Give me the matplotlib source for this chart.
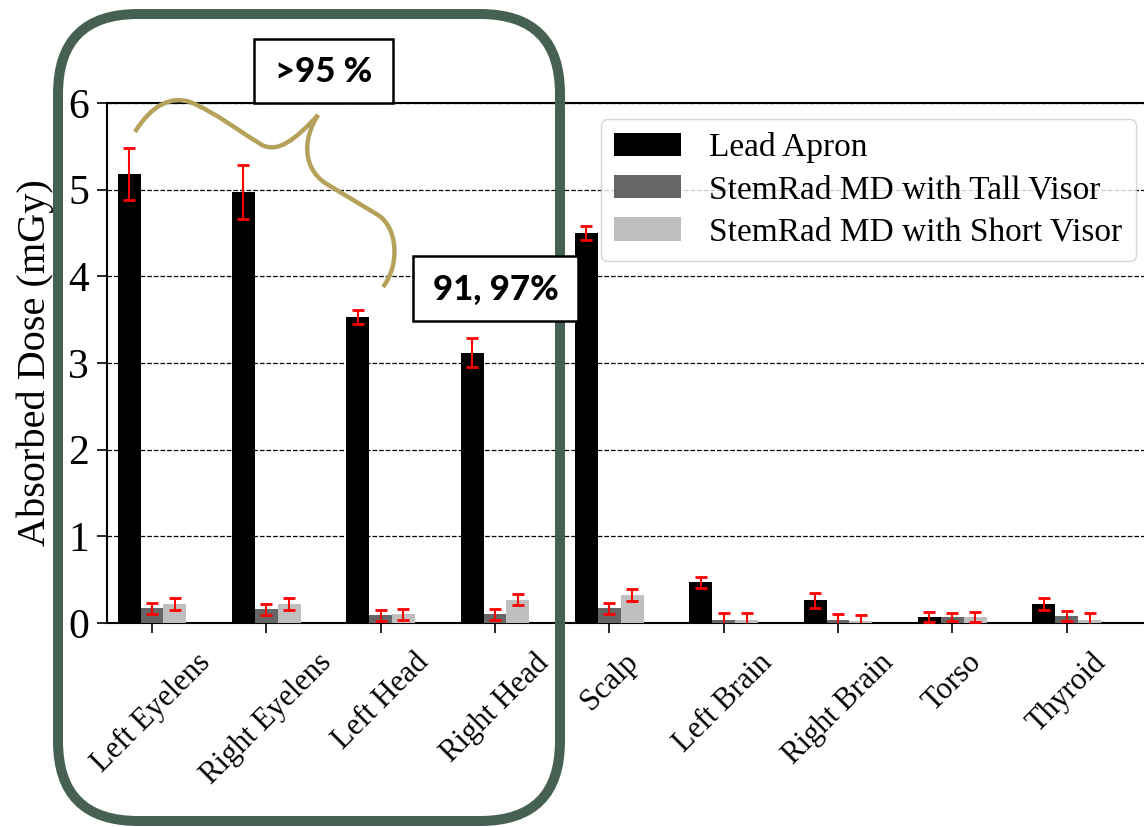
import numpy as np
import matplotlib.pyplot as plt
from matplotlib.patches import FancyBboxPatch, Rectangle, PathPatch
from matplotlib.path import Path

plt.rcParams['font.family'] = ['Liberation Serif', 'DejaVu Serif']

organs = ["Left Eyelens", "Right Eyelens", "Left Head", "Right Head", "Scalp",
          "Left Brain", "Right Brain", "Torso", "Thyroid"]

lead_apron = [5.18, 4.97, 3.53, 3.12, 4.50, 0.47, 0.26, 0.07, 0.22]
lead_apron_err = [0.30, 0.31, 0.08, 0.17, 0.08, 0.065, 0.09, 0.055, 0.07]
tall_visor = [0.17, 0.16, 0.09, 0.10, 0.17, 0.04, 0.03, 0.07, 0.08]
tall_visor_err = [0.065, 0.065, 0.065, 0.065, 0.065, 0.07, 0.07, 0.05, 0.055]
short_visor = [0.22, 0.22, 0.10, 0.27, 0.32, 0.04, 0.02, 0.07, 0.04]
short_visor_err = [0.065, 0.065, 0.065, 0.065, 0.07, 0.07, 0.07, 0.06, 0.07]

series_names = ["Lead Apron", "StemRad MD with Tall Visor", "StemRad MD with Short Visor"]

W, H = 1144, 827
fig = plt.figure(figsize=(W / 100, H / 100), dpi=100)
ax = fig.add_axes([107 / W, 1 - 623 / H, (1181 - 107) / W, 520 / H])

x = np.arange(len(organs))
width = 0.2
err_style = dict(ecolor='red', elinewidth=1.5, capsize=4, capthick=2)
for off, vals, errs, col, name in [(-width, lead_apron, lead_apron_err, 'black', series_names[0]),
                                   (0, tall_visor, tall_visor_err, '0.4', series_names[1]),
                                   (width, short_visor, short_visor_err, '0.75', series_names[2])]:
    ax.bar(x + off, vals, width, color=col, label=name, yerr=errs, error_kw=err_style, zorder=3)

ax.set_xlim(-0.393, 9.0)
ax.set_ylim(0, 6)
ax.set_axisbelow(True)
ax.yaxis.grid(True, linestyle='--', color='black', linewidth=0.9)
ax.set_xticks(x)
ax.set_xticklabels(organs, rotation=45, ha='center', fontsize=22)
ax.tick_params(axis='y', labelsize=30, length=7, width=1.2, pad=6)
ax.tick_params(axis='x', length=7, width=1.2, pad=11)
ax.set_ylabel('Absorbed Dose (mGy)', fontsize=29, labelpad=10)
for s in ax.spines.values():
    s.set_linewidth(1.5)

ax.legend(loc='upper left', bbox_to_anchor=(601 / W, 1 - 119 / H), bbox_transform=fig.transFigure,
          borderaxespad=0, fontsize=24, handlelength=2.0, handletextpad=0.85, labelspacing=0.35)

# overlay in pixel units for the callouts
ov = fig.add_axes([0, 0, 1, 1])
ov.set_xlim(0, W)
ov.set_ylim(H, 0)
ov.axis('off')
ov.set_zorder(5)

ov.add_patch(FancyBboxPatch((58, 14), 502, 807, boxstyle="round,pad=0,rounding_size=80",
                            fill=False, ec='#466152', lw=7.2, zorder=1))

verts = [(135, 132),
         (152, 104), (172, 96), (190, 102),
         (215, 112), (245, 135), (262, 145),
         (278, 153), (295, 140), (318, 115),
         (305, 135), (300, 165), (325, 183),
         (378, 215),
         (398, 228), (400, 265), (383, 287)]
codes = [Path.MOVETO] + [Path.CURVE4] * 12 + [Path.LINETO] + [Path.CURVE4] * 3
ov.add_patch(PathPatch(Path(verts, codes), fill=False, ec='#b5a25a', lw=3.2,
                       capstyle='butt', zorder=2))

for (bx, by, bw, bh), txt in [((254, 39, 139, 64), '>95 %'), ((413, 256, 165, 65), '91, 97%')]:
    ov.add_patch(Rectangle((bx, by), bw, bh, fc='white', ec='black', lw=1.8, zorder=3))
    ov.text(bx + bw / 2, by + bh / 2 + 1, txt, ha='center', va='center', fontsize=25,
            fontweight='black', family=['Lato', 'DejaVu Sans'], zorder=4)

fig.savefig('out.png', dpi=100)
